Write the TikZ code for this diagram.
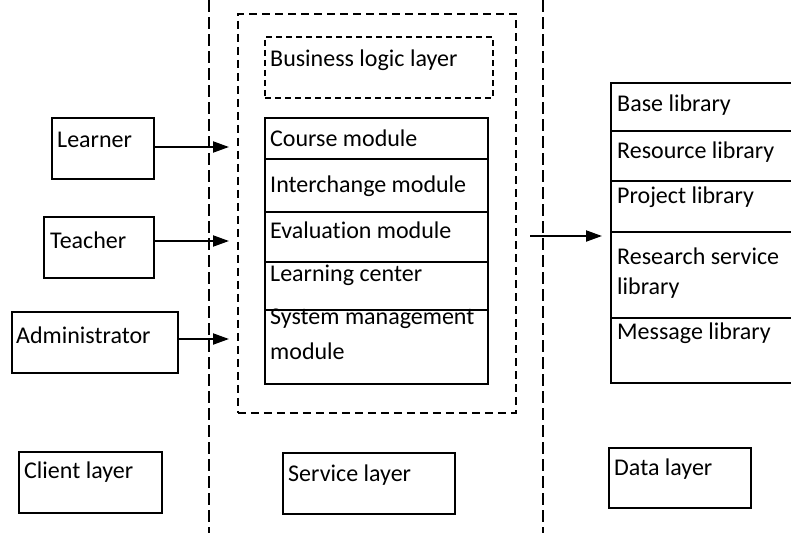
\documentclass[tikz,border=0pt]{standalone}
\usepackage{fontspec}
\setmainfont{Carlito}[Ligatures=NoCommon]
\usetikzlibrary{arrows.meta}
\begin{document}
\begin{tikzpicture}[x=1pt,y=-1pt,
  font=\fontsize{24}{32}\selectfont,
  box/.style={draw,line width=1.6pt,inner sep=0pt,anchor=north west},
  lbl/.style={anchor=west,inner sep=0pt},
  divider/.style={line width=1.6pt},
  sep/.style={line width=1.3pt,dash pattern=on 12pt off 5pt},
  outerdash/.style={line width=1.5pt,dash pattern=on 8pt off 5pt},
  innerdash/.style={line width=1.5pt,dash pattern=on 6pt off 4pt},
  link/.style={line width=2pt,-{Triangle[length=16pt,width=11pt]}}]
\useasboundingbox (0,0) rectangle (791,533);

% layer separators
\coordinate (s1t) at (209,0);   \coordinate (s1b) at (209,533);
\coordinate (s2t) at (543,0);   \coordinate (s2b) at (543,533);
\draw[sep] (s1t) -- (s1b);
\draw[sep] (s2t) -- (s2b);

% client layer
\node[box,minimum width=102pt,minimum height=61pt] (learner) at (51,117) {};
\node[lbl] (learnerT) at (57,140) {Learner};
\node[box,minimum width=110pt,minimum height=61pt] (teacher) at (43,216) {};
\node[lbl] (teacherT) at (50,240) {Teacher};
\node[box,minimum width=166pt,minimum height=61pt] (admin) at (11,311) {};
\node[lbl] (adminT) at (16,335) {Administrator};

% service layer
\node[outerdash,draw,inner sep=0pt,anchor=north west,minimum width=278pt,minimum height=399pt] (service) at (237,13) {};
\node[innerdash,draw,inner sep=0pt,anchor=north west,minimum width=228pt,minimum height=61pt] (logic) at (264,36) {};
\node[lbl] (logicT) at (270,60) {Business logic layer};

\node[box,minimum width=223pt,minimum height=266pt] (modules) at (264,117) {};
\draw[divider] (264,159) -- (487,159);
\draw[divider] (264,212) -- (487,212);
\draw[divider] (264,262) -- (487,262);
\draw[divider] (264,310) -- (487,310);
\node[lbl] (m1) at (270,138) {Course module};
\node[lbl] (m2) at (270,186) {Interchange module};
\node[lbl] (m3) at (270,230) {Evaluation module};
\node[lbl] (m4) at (270,275) {Learning center};
\node[lbl] (m5a) at (270,319) {System management};
\node[lbl] (m5b) at (270,351) {module};

% data layer
\node[box,minimum width=185pt,minimum height=300pt] (libs) at (610,82) {};
\draw[divider] (610,131) -- (795,131);
\draw[divider] (610,181) -- (795,181);
\draw[divider] (610,232) -- (795,232);
\draw[divider] (610,318) -- (795,318);
\node[lbl] (d1) at (617,105) {Base library};
\node[lbl] (d2) at (617,152) {Resource library};
\node[lbl] (d3) at (617,197) {Project library};
\node[lbl] (d4a) at (617,256) {Research service};
\node[lbl] (d4b) at (617,288) {library};
\node[lbl] (d5) at (617,333) {Message library};

% connectors
\coordinate (a1) at (229,147);
\coordinate (a2) at (229,241);
\coordinate (a3) at (229,339);
\draw[link] (learner.east |- a1) -- (a1);
\draw[link] (teacher.east |- a2) -- (a2);
\draw[link] (admin.east |- a3) -- (a3);
\coordinate (d0) at (530,236);
\coordinate (dE) at (602,236);
\draw[link] (d0) -- (dE);

% layer captions
\node[box,minimum width=143pt,minimum height=61pt] (client) at (18,451) {};
\node[lbl] (clientT) at (24,472) {Client layer};
\node[box,minimum width=172pt,minimum height=61pt] (serv) at (282,452) {};
\node[lbl] (servT) at (288,475) {Service layer};
\node[box,minimum width=142pt,minimum height=60pt] (data) at (608,447) {};
\node[lbl] (dataT) at (614,469) {Data layer};
\end{tikzpicture}
\end{document}
